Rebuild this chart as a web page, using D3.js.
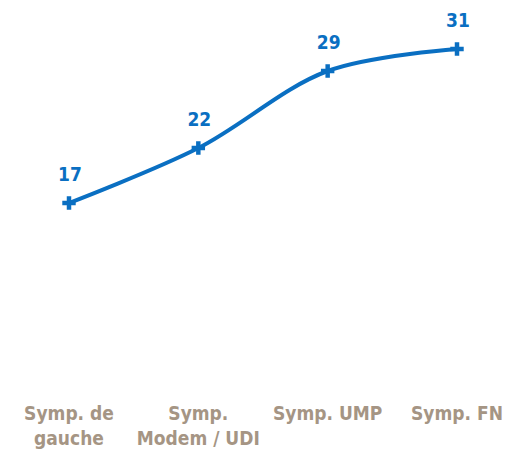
<!DOCTYPE html>
<html><head><meta charset="utf-8">
<script src="https://cdn.jsdelivr.net/npm/d3@7"></script>
<style>body{margin:0;background:#fff}svg{display:block}</style>
</head><body>
<script>
const categories = [["Symp. de","gauche"],["Symp.","Modem / UDI"],["Symp. UMP"],["Symp. FN"]];
const values = [17, 22, 29, 31];

const W = 507, H = 453;
const svg = d3.select("body").append("svg").attr("width", W).attr("height", H);
const x = d3.scalePoint().domain(d3.range(categories.length)).range([69, 457]);
const y = d3.scaleLinear().domain([0, 31]).range([390, 49]);
const blue = "#0a6fc2";

const line = d3.line().x((d,i)=>x(i)).y(d=>y(d)).curve(d3.curveCatmullRom.alpha(0.5));
svg.append("path").datum(values).attr("d", line).attr("fill","none")
  .attr("stroke", blue).attr("stroke-width", 4).attr("stroke-linecap","round");

const cross = d3.symbol().type(d3.symbolCross).size(100);
svg.selectAll(".m").data(values).join("path").attr("class","m")
  .attr("transform",(d,i)=>`translate(${x(i)},${y(d)})`).attr("d", cross).attr("fill", blue);

svg.selectAll(".v").data(values).join("text").attr("class","v")
  .attr("x",(d,i)=>x(i)+1).attr("y",d=>y(d)-22)
  .attr("text-anchor","middle").attr("font-family","DejaVu Sans Condensed, DejaVu Sans")
  .attr("font-weight","bold").attr("font-size",19).attr("fill",blue).text(d=>d);

const g = svg.selectAll(".c").data(categories).join("text").attr("class","c")
  .attr("text-anchor","middle").attr("font-family","DejaVu Sans Condensed, DejaVu Sans")
  .attr("font-weight","bold").attr("font-size",19).attr("fill","#a59584");
g.selectAll("tspan").data((d,i)=>d.map(t=>({t,i}))).join("tspan")
  .attr("x",d=>x(d.i)).attr("y",(d,j)=>420+j*25).text(d=>d.t);
</script>
</body></html>
